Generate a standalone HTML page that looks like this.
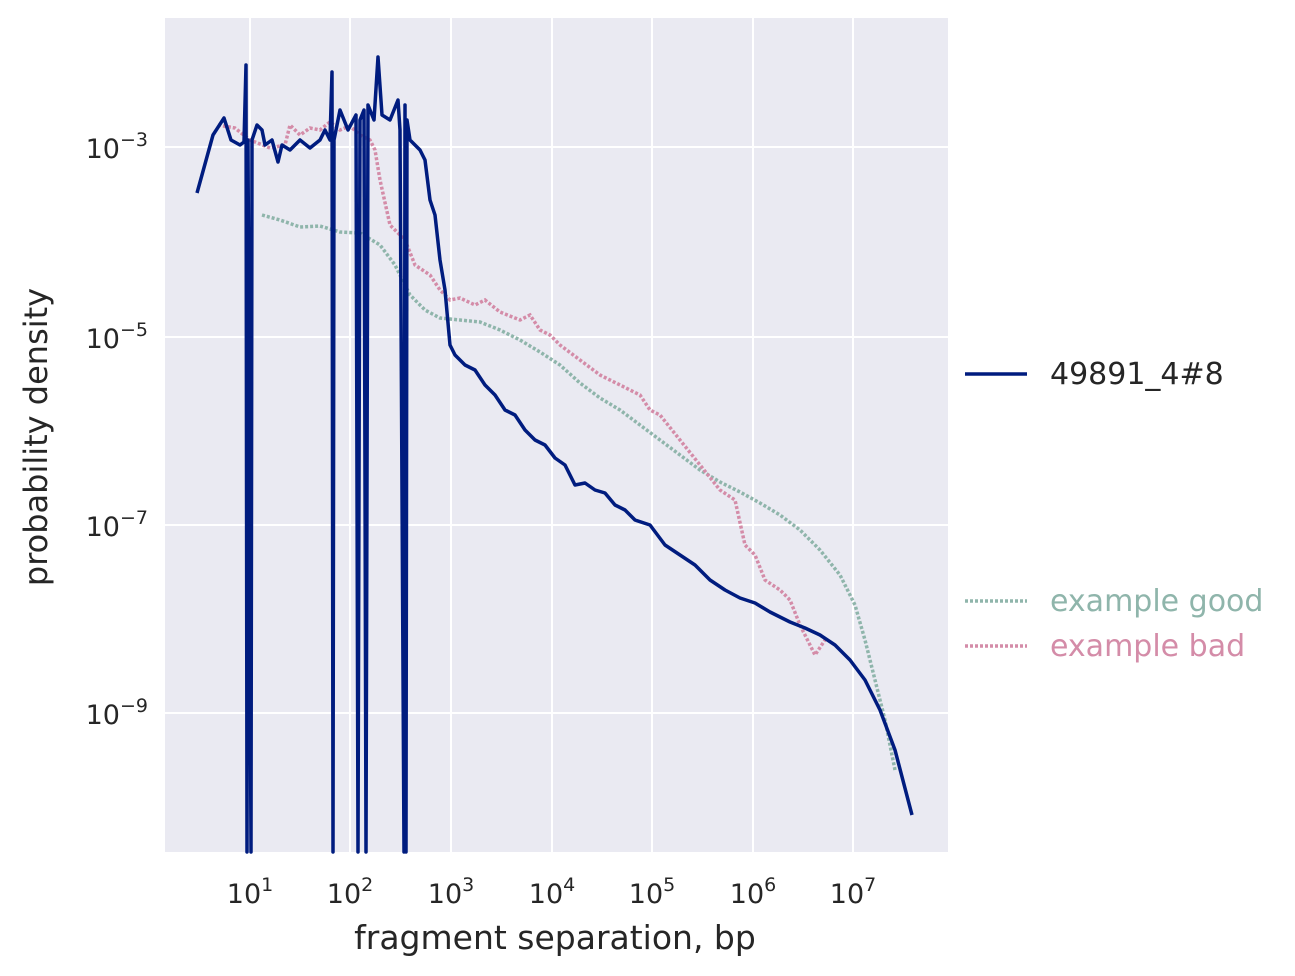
<!DOCTYPE html>
<html><head><meta charset="utf-8"><style>
html,body{margin:0;padding:0;background:#fff;}
svg{display:block;font-family:"DejaVu Sans","Liberation Sans",sans-serif;}
</style></head><body>
<svg width="1295" height="976" viewBox="0 0 1295 976">
<rect x="165" y="18" width="783" height="834" fill="#eaeaf2"/>
<g stroke="#fff" stroke-width="2">
<line x1="250" y1="18" x2="250" y2="852"/><line x1="350" y1="18" x2="350" y2="852"/>
<line x1="451" y1="18" x2="451" y2="852"/><line x1="552" y1="18" x2="552" y2="852"/>
<line x1="652" y1="18" x2="652" y2="852"/><line x1="753" y1="18" x2="753" y2="852"/>
<line x1="853" y1="18" x2="853" y2="852"/>
<line x1="165" y1="147" x2="948" y2="147"/><line x1="165" y1="337" x2="948" y2="337"/>
<line x1="165" y1="525" x2="948" y2="525"/><line x1="165" y1="713" x2="948" y2="713"/>
</g>
<g fill="#262626" font-size="27">
<g text-anchor="middle">
<text x="250" y="903">10<tspan font-size="19" dy="-12">1</tspan></text>
<text x="350" y="903">10<tspan font-size="19" dy="-12">2</tspan></text>
<text x="451" y="903">10<tspan font-size="19" dy="-12">3</tspan></text>
<text x="552" y="903">10<tspan font-size="19" dy="-12">4</tspan></text>
<text x="652" y="903">10<tspan font-size="19" dy="-12">5</tspan></text>
<text x="753" y="903">10<tspan font-size="19" dy="-12">6</tspan></text>
<text x="853" y="903">10<tspan font-size="19" dy="-12">7</tspan></text>
</g>
<g text-anchor="end">
<text x="148" y="158">10<tspan font-size="19" dy="-12">−3</tspan></text>
<text x="148" y="348">10<tspan font-size="19" dy="-12">−5</tspan></text>
<text x="148" y="536">10<tspan font-size="19" dy="-12">−7</tspan></text>
<text x="148" y="724">10<tspan font-size="19" dy="-12">−9</tspan></text>
</g>
<text x="555" y="949" text-anchor="middle" font-size="33">fragment separation, bp</text>
<text transform="translate(47,437) rotate(-90)" text-anchor="middle" font-size="32">probability density</text>
</g>
<polyline fill="none" stroke="#8fb5ab" stroke-width="3.5" stroke-dasharray="3,2" points="262,215 280,220 300,227 320,226 340,232 360,233 380,245 395,265 410,295 425,310 440,318 460,320 480,322 500,330 520,340 540,352 560,365 580,383 600,398 620,410 640,425 660,440 680,455 700,470 720,482 740,492 760,503 780,515 800,530 820,550 840,575 855,605 865,640 875,680 885,720 895,770"/>
<polyline fill="none" stroke="#d48ca8" stroke-width="3.5" stroke-dasharray="3,2" points="218,125 235,128 250,140 270,148 285,145 290,125 300,135 310,128 320,130 330,122 340,130 350,126 360,135 370,140 375,150 380,180 390,225 405,240 415,265 430,275 440,290 450,300 460,298 475,305 485,300 500,312 520,320 530,315 540,330 550,335 560,345 580,360 600,375 620,385 640,395 650,410 660,415 680,440 700,465 720,490 735,500 745,545 755,555 765,580 780,590 790,600 800,625 815,655 825,640"/>
<polyline fill="none" stroke="#001c7f" stroke-width="3.5" stroke-linejoin="round" points="197,193 213,135 224,118 231,140 240,145 244,142 246,65 247,852 248,140 251,852 252,140 257,125 262,130 265,145 272,140 278,162 282,145 290,150 300,140 310,148 320,140 325,130 330,140 332,72 333,852 334,140 340,110 348,130 356,115 358,852 360,120 364,110 366,852 368,105 374,120 378,57 382,115 390,120 398,100 400,130 404,852 405,105 406,852 407,120 410,140 420,150 425,160 430,200 435,215 440,260 445,290 450,345 455,355 465,365 475,370 485,385 495,395 505,410 515,415 525,430 535,440 545,445 555,458 565,465 575,485 585,483 595,490 605,493 615,505 625,510 635,520 650,525 665,545 680,555 695,565 710,580 725,590 740,598 755,603 770,612 790,622 805,628 820,635 835,645 850,660 865,680 880,710 895,750 912,815"/>
<line x1="965" y1="374" x2="1027" y2="374" stroke="#001c7f" stroke-width="3.5"/>
<text x="1050" y="384" font-size="30" fill="#262626">49891_4#8</text>
<line x1="965" y1="601" x2="1027" y2="601" stroke="#8fb5ab" stroke-width="3.5" stroke-dasharray="3,2"/>
<text x="1050" y="611" font-size="30" fill="#8fb5ab">example good</text>
<line x1="965" y1="646" x2="1027" y2="646" stroke="#d48ca8" stroke-width="3.5" stroke-dasharray="3,2"/>
<text x="1050" y="656" font-size="30" fill="#d48ca8">example bad</text>
</svg>
</body></html>
